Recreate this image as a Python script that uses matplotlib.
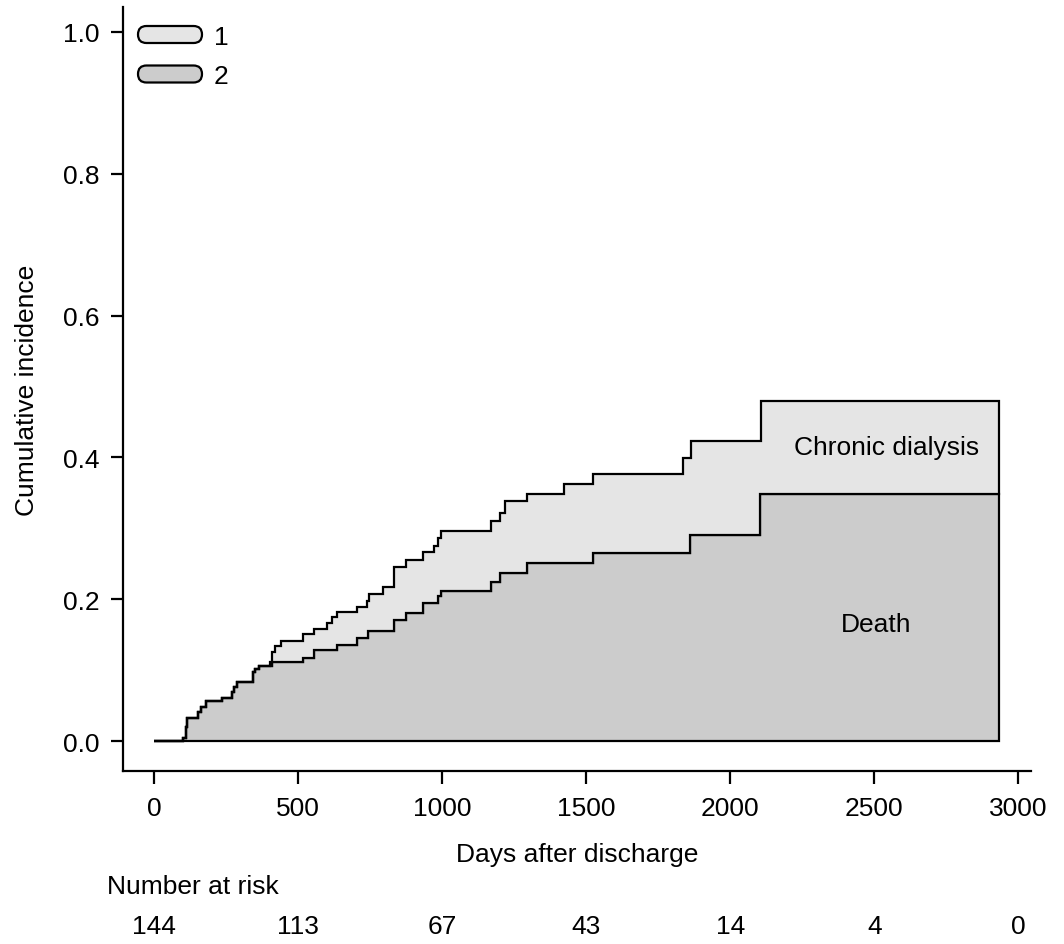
import numpy as np
import matplotlib
matplotlib.use("Agg")
import matplotlib.pyplot as plt
from matplotlib.patches import FancyBboxPatch
from matplotlib.transforms import IdentityTransform, blended_transform_factory

# ---- data ----
total_times = [0, 99, 110, 116, 154, 162, 179, 235, 269, 277, 287, 345, 351, 366,
               401, 408, 421, 441, 518, 555, 599, 619, 634, 706, 738, 747, 793,
               832, 873, 932, 971, 985, 996, 1170, 1201, 1219, 1295, 1424, 1522,
               1835, 1865, 2107, 2931]
total_vals = [0, 0.005, 0.020, 0.033, 0.041, 0.048, 0.056, 0.061, 0.069, 0.076,
              0.083, 0.097, 0.102, 0.106, 0.112, 0.126, 0.134, 0.141, 0.151,
              0.158, 0.167, 0.175, 0.182, 0.189, 0.197, 0.207, 0.217, 0.246,
              0.256, 0.267, 0.275, 0.287, 0.297, 0.310, 0.322, 0.338, 0.348,
              0.363, 0.376, 0.399, 0.423, 0.480, 0.480]

death_times = [0, 99, 110, 116, 154, 162, 179, 235, 269, 277, 287, 345, 351, 366,
               410, 518, 555, 634, 706, 743, 832, 873, 932, 985, 996, 1169, 1200,
               1296, 1522, 1860, 2104, 2931]
death_vals = [0, 0.005, 0.020, 0.033, 0.041, 0.048, 0.056, 0.061, 0.069, 0.076,
              0.083, 0.097, 0.102, 0.106, 0.112, 0.117, 0.129, 0.135, 0.146,
              0.155, 0.171, 0.181, 0.195, 0.204, 0.212, 0.225, 0.237, 0.251,
              0.266, 0.290, 0.348, 0.348]

legend_labels = ["1", "2"]
region_labels = ["Chronic dialysis", "Death"]
risk_times = [0, 500, 1000, 1500, 2000, 2500, 3000]
risk_n = [144, 113, 67, 43, 14, 4, 0]
x_ticks = [0, 500, 1000, 1500, 2000, 2500, 3000]
y_ticks = [0.0, 0.2, 0.4, 0.6, 0.8, 1.0]

LIGHT = "#e5e5e5"
DARK = "#cccccc"
FS = 19

plt.rcParams["font.family"] = ["Liberation Sans", "DejaVu Sans"]

W, H = 1064, 945
fig = plt.figure(figsize=(W / 100, H / 100), dpi=100)
ax = fig.add_axes([123 / W, 1 - 772 / H, (1031 - 123) / W, (772 - 8) / H])

# evaluate both step functions on a common grid (no interpolation: step lookup)
grid = np.union1d(total_times, death_times)
def step_eval(times, vals, g):
    idx = np.searchsorted(times, g, side="right") - 1
    return np.asarray(vals)[idx]
tot_g = step_eval(total_times, total_vals, grid)
dea_g = step_eval(death_times, death_vals, grid)

ax.fill_between(grid, 0, dea_g, step="post", facecolor=DARK, edgecolor="black",
                linewidth=1.6, joinstyle="miter")
ax.fill_between(grid, dea_g, tot_g, step="post", facecolor=LIGHT, edgecolor="black",
                linewidth=1.6, joinstyle="miter")

ax.set_xlim(-107.6, 3043.6)
ax.set_ylim(-0.042, 1.035)

for s in ["top", "right"]:
    ax.spines[s].set_visible(False)
for s in ["left", "bottom"]:
    ax.spines[s].set_linewidth(1.6)

ax.set_xticks(x_ticks)
ax.set_xticklabels([str(v) for v in x_ticks])
ax.set_yticks(y_ticks)
ax.set_yticklabels([f"{v:.1f}" for v in y_ticks])
ax.tick_params(axis="both", direction="out", length=9, width=1.6, labelsize=FS)
ax.tick_params(axis="x", pad=9)
ax.tick_params(axis="y", pad=8)

ax.set_ylabel("Cumulative incidence", fontsize=FS)
ax.yaxis.set_label_coords((27 - 123) / (1031 - 123), 0.5)
ax.yaxis.label.set_verticalalignment("center")

fig.text(577 / W, 1 - 855 / H, "Days after discharge", fontsize=FS,
         ha="center", va="center")

# region labels
ax.text(2541, 0.4147, region_labels[0], fontsize=FS, ha="center", va="center")
ax.text(2506, 0.1654, region_labels[1], fontsize=FS, ha="center", va="center")

# legend boxes (pill shaped)
for i, (lab, col) in enumerate(zip(legend_labels, [LIGHT, DARK])):
    y_top = 27 + i * 39.5
    box = FancyBboxPatch((138, H - (y_top + 17)), 64, 17,
                         boxstyle="round,pad=0,rounding_size=8.5",
                         facecolor=col, edgecolor="black", linewidth=1.6,
                         transform=IdentityTransform())
    fig.add_artist(box)
    fig.text(214 / W, 1 - (y_top + 11) / H, lab, fontsize=FS, ha="left", va="center")

# number at risk
fig.text(107 / W, 1 - 887 / H, "Number at risk", fontsize=FS, ha="left", va="center")
trans = blended_transform_factory(ax.transData, fig.transFigure)
for t, n in zip(risk_times, risk_n):
    ax.text(t, 1 - 927 / H, str(n), fontsize=FS, ha="center", va="center",
            transform=trans, clip_on=False)

fig.savefig("out.png", dpi=100)
